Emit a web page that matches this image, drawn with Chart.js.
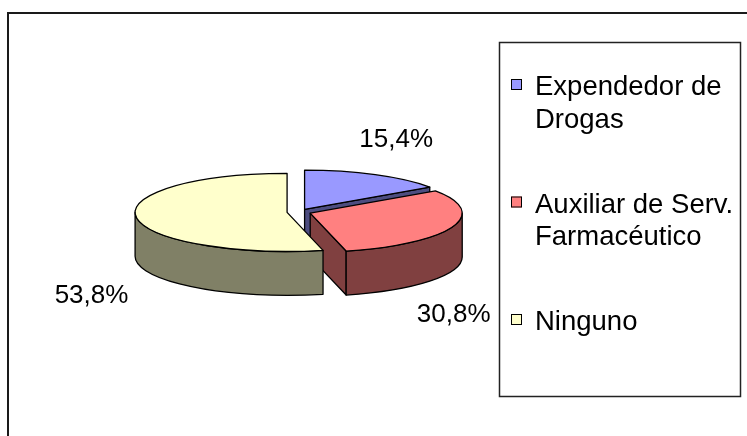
<!DOCTYPE html>
<html>
<head>
<meta charset="utf-8">
<script src="https://cdn.jsdelivr.net/npm/chart.js@4/dist/chart.umd.min.js"></script>
<style>
  html, body { margin: 0; padding: 0; background: #fff; }
  canvas { display: block; }
</style>
</head>
<body>
<canvas id="grafico" width="747" height="436"></canvas>
<script>
// datos
const categorias = ["Expendedor de Drogas", "Auxiliar de Serv. Farmacéutico", "Ninguno"];
const porcentajes = [15.4, 30.8, 53.8];
const colores = ["#9999ff", "#ff8080", "#ffffcc"];

const FUENTE_ETIQ = "26px 'Liberation Sans', Arial, sans-serif";
const FUENTE_LEY = "27.5px 'Liberation Sans', Arial, sans-serif";

function oscurecer(hex) {
  const n = parseInt(hex.slice(1), 16);
  const r = (n >> 16) & 255, g = (n >> 8) & 255, b = n & 255;
  return "rgb(" + Math.round(r / 2) + "," + Math.round(g / 2) + "," + Math.round(b / 2) + ")";
}

function formato(v) {
  return v.toFixed(1).replace(".", ",") + "%";
}

// dibuja la torta en 3D a partir de los arcos que calcula Chart.js
const torta3d = {
  id: "torta3d",
  beforeDatasetsDraw(chart, args, opts) {
    const ctx = chart.ctx;
    const k = opts.tilt, prof = opts.depth;
    const piezas = chart.getDatasetMeta(0).data.map(a => {
      const mid = (a.startAngle + a.endAngle) / 2;
      const off = a.options.offset || 0;
      return {
        s: a.startAngle, e: a.endAngle, mid: mid, R: a.outerRadius,
        cx: a.x + Math.cos(mid) * off,
        cy: a.y + Math.sin(mid) * off * k,
        fill: a.options.backgroundColor,
        lado: oscurecer(a.options.backgroundColor)
      };
    });
    chart.$piezas = piezas;

    ctx.save();
    ctx.lineWidth = 1.3;
    ctx.strokeStyle = "#000";
    ctx.lineJoin = "round";

    const punto = (p, t) => [p.cx + p.R * Math.cos(t), p.cy + p.R * k * Math.sin(t)];

    function cara(p, t) {
      const q = punto(p, t);
      ctx.beginPath();
      ctx.moveTo(p.cx, p.cy);
      ctx.lineTo(q[0], q[1]);
      ctx.lineTo(q[0], q[1] + prof);
      ctx.lineTo(p.cx, p.cy + prof);
      ctx.closePath();
      ctx.fillStyle = p.lado;
      ctx.fill();
      ctx.stroke();
    }

    // paredes
    piezas.forEach(p => {
      if (Math.cos(p.s) < -1e-6) cara(p, p.s);
      if (Math.cos(p.e) > 1e-6) cara(p, p.e);
      const a0 = Math.max(p.s, 0), a1 = Math.min(p.e, Math.PI);
      if (a1 > a0) {
        const q0 = punto(p, a0), q1 = punto(p, a1);
        ctx.beginPath();
        ctx.moveTo(q0[0], q0[1]);
        ctx.ellipse(p.cx, p.cy, p.R, p.R * k, 0, a0, a1);
        ctx.lineTo(q1[0], q1[1] + prof);
        ctx.ellipse(p.cx, p.cy + prof, p.R, p.R * k, 0, a1, a0, true);
        ctx.closePath();
        ctx.fillStyle = p.lado;
        ctx.fill();
        ctx.stroke();
      }
    });

    // tapas
    piezas.forEach(p => {
      ctx.beginPath();
      ctx.moveTo(p.cx, p.cy);
      ctx.ellipse(p.cx, p.cy, p.R, p.R * k, 0, p.s, p.e);
      ctx.closePath();
      ctx.fillStyle = p.fill;
      ctx.fill();
      ctx.stroke();
    });
    ctx.restore();
    return false;
  },
  afterDraw(chart, args, opts) {
    const ctx = chart.ctx;
    const k = opts.tilt, prof = opts.depth;
    const datos = chart.data.datasets[0].data;
    const total = datos.reduce((s, v) => s + v, 0);
    const lx = 499.5, ly = 42.5, lw = 241, lh = 354;
    ctx.save();

    // marco exterior
    ctx.strokeStyle = "#1a1a1a";
    ctx.lineWidth = 2;
    ctx.strokeRect(8, 13, 800, 500);

    // etiquetas de porcentaje
    ctx.font = FUENTE_ETIQ;
    ctx.fillStyle = "#000";
    ctx.textAlign = "center";
    ctx.textBaseline = "middle";
    (chart.$piezas || []).forEach((p, i) => {
      const txt = formato(datos[i] / total * 100);
      const w = ctx.measureText(txt).width;
      const c = Math.cos(p.mid), s = Math.sin(p.mid);
      let x = p.cx + c * (p.R + 45);
      x = Math.min(x, lx - 9 - w / 2);
      const y = p.cy + s * 2 * p.R * k + (s > 0 ? prof + 30 : 0);
      ctx.fillText(txt, x, y);
    });

    // leyenda
    ctx.lineWidth = 1.5;
    ctx.strokeStyle = "#222";
    ctx.strokeRect(lx, ly, lw, lh);
    ctx.font = FUENTE_LEY;
    ctx.textAlign = "left";
    ctx.textBaseline = "alphabetic";
    const textoX = 535, maxAncho = 212;
    chart.data.labels.forEach((lab, i) => {
      const lineas = [];
      let actual = "";
      lab.split(" ").forEach(w => {
        const prueba = actual ? actual + " " + w : w;
        if (actual && ctx.measureText(prueba).width > maxAncho) {
          lineas.push(actual);
          actual = w;
        } else {
          actual = prueba;
        }
      });
      lineas.push(actual);
      const base = 95 + i * 117.5;
      ctx.fillStyle = colores[i];
      ctx.fillRect(511, base - 16, 11, 11);
      ctx.lineWidth = 1;
      ctx.strokeStyle = "#000";
      ctx.strokeRect(511.5, base - 15.5, 10, 10);
      ctx.fillStyle = "#000";
      lineas.forEach((t, j) => ctx.fillText(t, textoX, base + j * 32.5));
    });
    ctx.restore();
  }
};

new Chart(document.getElementById("grafico"), {
  type: "pie",
  data: {
    labels: categorias,
    datasets: [{
      data: porcentajes,
      backgroundColor: colores,
      borderColor: "#000",
      borderWidth: 1,
      offset: 12,
      radius: 152
    }]
  },
  options: {
    responsive: false,
    animation: false,
    devicePixelRatio: 1,
    events: [],
    layout: { padding: { left: 0, right: 149, top: 0, bottom: 12 } },
    plugins: {
      legend: { display: false },
      title: { display: false },
      tooltip: { enabled: false },
      torta3d: { tilt: 0.257, depth: 44 }
    }
  },
  plugins: [torta3d]
});
</script>
</body>
</html>
